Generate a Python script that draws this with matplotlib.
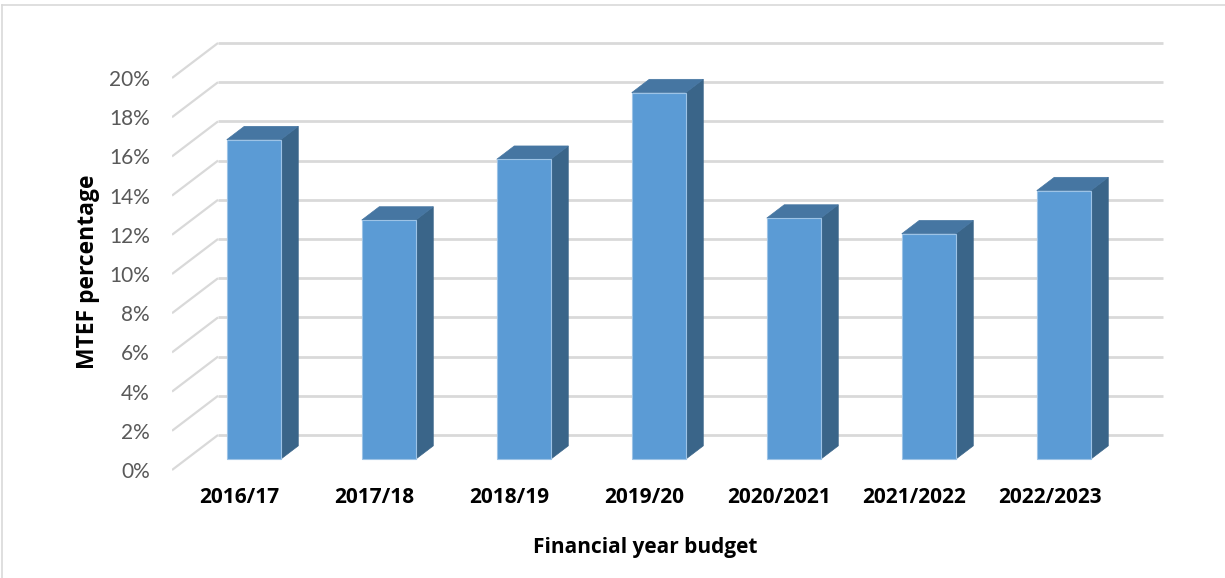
import matplotlib
matplotlib.use("Agg")
import matplotlib.pyplot as plt
from matplotlib.patches import Polygon
from matplotlib.lines import Line2D

years = ["2016/17", "2017/18", "2018/19", "2019/20", "2020/2021", "2021/2022", "2022/2023"]
mtef = [16.3, 12.2, 15.3, 18.7, 12.3, 11.5, 13.7]
yticks = list(range(0, 21, 2))

FRONT = "#5B9BD5"
SIDE = "#3A6589"
TOP = "#4676A2"
GRID = "#D9D9D9"

# depth of the floor, in category / percent units
DX, DY = 0.341, 1.786
F0, F1 = 0.31, 0.69   # bar spans this part of the depth
BW = 0.4

plt.rcParams["font.family"] = ["Lato", "DejaVu Sans"]
BOLD = ["Open Sans", "DejaVu Sans"]

W, H = 1225, 578
fig = plt.figure(figsize=(W / 100, H / 100), dpi=100)
left, right, top, bottom = 172, 1190, 25, 480
ax = fig.add_axes([left / W, 1 - bottom / H, (right - left) / W, (bottom - top) / H])

# pixel scales: 135 px per category, 19.6 px per percent
ax.set_xlim(-0.5, -0.5 + (right - left) / 135)
ax.set_ylim(-(bottom - 470) / 19.6, (470 - top) / 19.6)

n = len(years)
for v in yticks:
    ax.plot([-0.5, -0.5 + DX], [v, v + DY], color=GRID, lw=1.6, zorder=1,
            solid_capstyle="butt")
    ax.plot([-0.5 + DX, n - 0.5 + DX], [v + DY, v + DY], color=GRID, lw=2,
            zorder=1, solid_capstyle="butt")

ddx = (F1 - F0) * DX
ddy = (F1 - F0) * DY
for i, h in enumerate(mtef):
    x0 = i + F0 * DX
    b = F0 * DY
    xl, xr = x0 - BW / 2, x0 + BW / 2
    ax.bar(x0, h, bottom=b, width=BW, color=FRONT, edgecolor="#9DC3E6",
           linewidth=0.8, zorder=3)
    side = Polygon([(xr, b), (xr, b + h), (xr + ddx, b + h + ddy), (xr + ddx, b + ddy)],
                   closed=True, facecolor=SIDE, edgecolor=SIDE, lw=0.5, zorder=2)
    lid = Polygon([(xl, b + h), (xr, b + h), (xr + ddx, b + h + ddy), (xl + ddx, b + h + ddy)],
                  closed=True, facecolor=TOP, edgecolor=TOP, lw=0.5, zorder=2)
    ax.add_patch(side)
    ax.add_patch(lid)

ax.set_yticks(yticks)
ax.set_yticklabels([f"{v}%" for v in yticks], fontsize=15, color="#595959")
ax.set_xticks(range(n))
ax.set_xticklabels(years, fontsize=15, fontweight="bold", color="black",
                   family=BOLD)
ax.tick_params(axis="y", length=0, pad=16)
ax.tick_params(axis="x", length=0, pad=5)
for s in ax.spines.values():
    s.set_visible(False)
ax.patch.set_alpha(0)

fig.text(88 / W, 1 - 272 / H, "MTEF percentage", rotation=90, fontsize=16.5,
         fontweight="bold", ha="center", va="center", family=BOLD)
fig.text(645 / W, 1 - 547 / H, "Financial year budget", fontsize=15,
         fontweight="bold", ha="center", va="center", family=BOLD)

# chart area border (top and left edges)
fig.add_artist(Line2D([2 / W, 1], [1 - 5 / H, 1 - 5 / H], color=GRID, lw=1.2,
                      transform=fig.transFigure))
fig.add_artist(Line2D([2 / W, 2 / W], [0, 1 - 5 / H], color=GRID, lw=1.2,
                      transform=fig.transFigure))

fig.savefig("out.png", dpi=100)
